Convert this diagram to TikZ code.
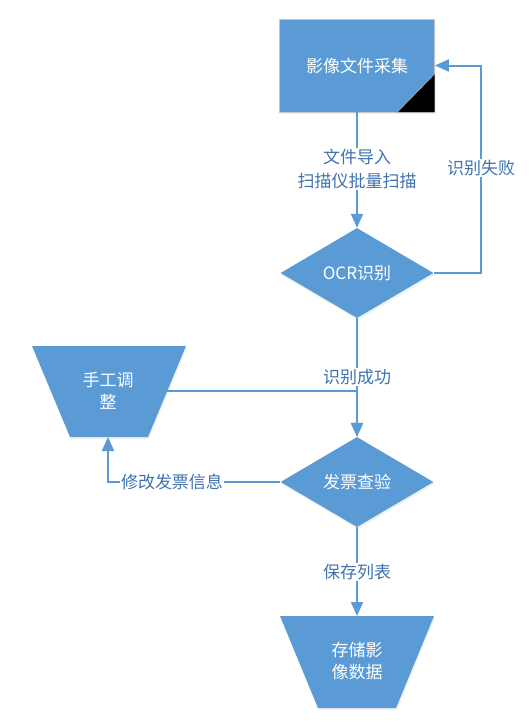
\documentclass[tikz,border=0pt]{standalone}
\usepackage{fontspec}
\setmainfont{Noto Sans CJK SC}
\usetikzlibrary{shapes.geometric,arrows.meta,shadows}
\definecolor{boxblue}{HTML}{5B9BD5}
\definecolor{lineblue}{HTML}{5B9BD5}
\definecolor{lblblue}{HTML}{3F73B0}
\begin{document}
\begin{tikzpicture}[x=1pt,y=-1pt,
  flow/.style={draw=lineblue, line width=2pt, -{Triangle[width=12pt,length=14pt]}},
  lbl/.style={fill=white, text=lblblue, font=\fontsize{17}{24}\selectfont, align=center, inner sep=1pt},
  shapetext/.style={text=white, font=\fontsize{17}{22}\selectfont, align=center},
  softshadow/.style={drop shadow={opacity=0.12, shadow xshift=1pt, shadow yshift=-2pt}},
  dia/.style={diamond, fill=boxblue, minimum width=153pt, minimum height=90pt, aspect=1.7, inner sep=0pt, shapetext, softshadow},
]
\useasboundingbox (0,0) rectangle (530,724);
% capture box
\node (cap) [rectangle, fill=boxblue, draw=gray!45, line width=0.8pt, minimum width=155pt, minimum height=93pt, shapetext, softshadow] at (357,65.5) {影像文件采集};
\coordinate (fa) at ([shift={(-0.4,-0.4)}]cap.south east);
\fill[black] (fa) -- ++(0,-38) -- ++(-37,38) -- cycle;
\draw[gray!60, line width=0.6pt] (fa) ++(0,-38) -- ++(-37,38);
% decisions
\node (ocr) [dia] at (357,273) {OCR识别};
\node (inv) [dia] at (357,482) {发票查验};
% manual trapezoid
\fill[boxblue, softshadow] (32,346) -- (186,346) -- (148,437) -- (70,437) -- cycle;
\node (man) [shapetext] at (108,391) {手工调\\整};
\coordinate (manR) at (167,391);
\coordinate (manB) at (108,437);
% store trapezoid
\fill[boxblue, softshadow] (280,616) -- (434,616) -- (396,708) -- (318,708) -- cycle;
\node (store) [shapetext] at (357,661) {存储影\\像数据};
\coordinate (storeT) at (357,616);
% connectors
\draw[flow] (cap.south) -- (ocr.north);
\draw[flow] (ocr.east) -- (481,273) -- (481,65.5) -- (cap.east);
\draw[flow] (ocr.south) -- (inv.north);
\draw[flow] (manR) -| (inv.north);
\draw[flow] (inv.west) -| (manB);
\draw[flow] (inv.south) -- (storeT);
% labels
\node[lbl] at (357,169) {文件导入\\扫描仪批量扫描};
\node[lbl] at (481,168) {识别失败};
\node[lbl] at (357,377) {识别成功};
\node[lbl] at (172,482) {修改发票信息};
\node[lbl] at (357,572) {保存列表};
\end{tikzpicture}
\end{document}
